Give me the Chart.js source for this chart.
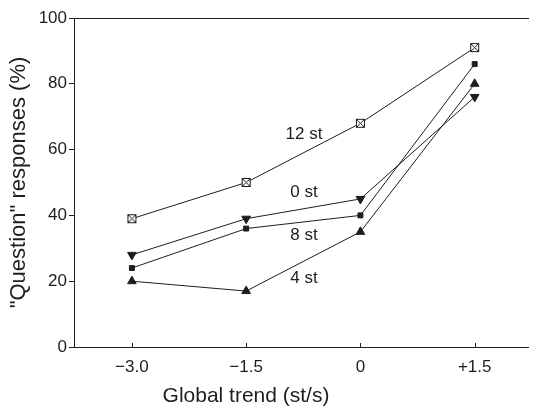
<!DOCTYPE html>
<html>
<head>
<meta charset="utf-8">
<script src="https://cdn.jsdelivr.net/npm/chart.js@4.4.1/dist/chart.umd.min.js"></script>
<style>
  html, body { margin: 0; padding: 0; background: #fff; }
  #wrap { width: 534px; height: 412px; position: relative; }
</style>
</head>
<body>
<div id="wrap"><canvas id="chart"></canvas></div>
<script>
// global trend (st/s) on the x axis
const trendValues = [-3.0, -1.5, 0, 1.5];
const trendLabels = ["\u22123.0", "\u22121.5", "0", "+1.5"];

// "Question" responses (%) for each excursion size
const resp12st = [39, 50, 68, 91];
const resp0st = [28, 39, 45, 76];
const resp8st = [24, 36, 40, 86];
const resp4st = [20, 17, 35, 80];

// in-plot series labels, in data units
const seriesNames = ["12 st", "0 st", "8 st", "4 st"];
const nameX = [-0.74, -0.74, -0.74, -0.74];
const nameY = [64.5, 47, 34, 21];

const ink = "#1e1e1e";
const font = "'Liberation Sans', Arial, Helvetica, sans-serif";

// open square with a cross inside
const boxCross = document.createElement("canvas");
boxCross.width = 11;
boxCross.height = 11;
(() => {
    const c = boxCross.getContext("2d");
    c.fillStyle = "#fff";
    c.fillRect(1, 1, 9, 9);
    c.strokeStyle = ink;
    c.lineWidth = 1;
    c.strokeRect(1.5, 1.5, 8, 8);
    c.beginPath();
    c.moveTo(2, 2); c.lineTo(9, 9);
    c.moveTo(9, 2); c.lineTo(2, 9);
    c.stroke();
})();

const toPoints = (vals) => vals.map((v, i) => ({ x: trendValues[i], y: v }));

const lineSet = (label, vals, style, extra) => Object.assign({
    label,
    data: toPoints(vals),
    borderColor: ink,
    backgroundColor: ink,
    borderWidth: 1,
    pointStyle: style,
    pointRadius: 4,
    pointBorderWidth: 1,
    pointBorderColor: ink,
    pointBackgroundColor: ink,
    tension: 0
}, extra || {});

const annotations = {
    id: "annotations",
    afterDatasetsDraw(chart) {
        const { ctx, scales: { x, y }, chartArea } = chart;
        ctx.save();
        ctx.fillStyle = ink;
        ctx.font = "17px " + font;
        ctx.textAlign = "center";
        ctx.textBaseline = "middle";
        seriesNames.forEach((name, i) => {
            ctx.fillText(name, x.getPixelForValue(nameX[i]), y.getPixelForValue(nameY[i]));
        });

        // small inward ticks on the x axis
        ctx.strokeStyle = ink;
        ctx.lineWidth = 1;
        ctx.beginPath();
        trendValues.forEach((v) => {
            const px = Math.round(x.getPixelForValue(v)) + 0.5;
            ctx.moveTo(px, chartArea.bottom);
            ctx.lineTo(px, chartArea.bottom - 4);
        });
        ctx.stroke();

        // x axis title
        ctx.font = "21px " + font;
        ctx.fillText("Global trend (st/s)", 246, 396);
        ctx.restore();
    }
};

new Chart(document.getElementById("chart"), {
    type: "line",
    data: {
        datasets: [
            lineSet("12 st", resp12st, boxCross),
            lineSet("0 st", resp0st, "triangle", { rotation: 180, pointRadius: 5 }),
            lineSet("8 st", resp8st, "rect", { pointRadius: 3.5 }),
            lineSet("4 st", resp4st, "triangle", { pointRadius: 5 })
        ]
    },
    options: {
        responsive: true,
        maintainAspectRatio: false,
        animation: false,
        layout: { padding: { top: 18, right: 0, left: 0, bottom: 0 } },
        plugins: {
            legend: { display: false },
            tooltip: { enabled: false }
        },
        scales: {
            x: {
                type: "linear",
                min: -3.76,
                max: 2.2,
                afterBuildTicks: (axis) => {
                    axis.ticks = trendValues.map((v) => ({ value: v }));
                },
                afterFit: (axis) => { axis.height = 65; },
                grid: { display: false },
                border: { display: true, color: ink, width: 1 },
                ticks: {
                    color: ink,
                    font: { family: font, size: 17 },
                    padding: 2,
                    maxRotation: 0,
                    callback: (v) => trendLabels[trendValues.indexOf(v)]
                }
            },
            top: {
                type: "linear",
                position: "top",
                min: -3.76,
                max: 2.2,
                afterFit: (axis) => { axis.height = 0; },
                grid: { display: false },
                border: { display: true, color: ink, width: 1 },
                ticks: { display: false }
            },
            y: {
                min: 0,
                max: 100,
                afterFit: (axis) => { axis.width = 74; },
                ticks: {
                    stepSize: 20,
                    color: ink,
                    font: { family: font, size: 17 },
                    padding: 2
                },
                grid: {
                    drawOnChartArea: false,
                    drawTicks: true,
                    tickLength: 5,
                    color: ink
                },
                border: { display: true, color: ink, width: 1 },
                title: {
                    display: true,
                    text: "\"Question\" responses (%)",
                    color: ink,
                    font: { family: font, size: 22 },
                    padding: { top: 6, bottom: 0 }
                }
            }
        }
    },
    plugins: [annotations]
});
</script>
</body>
</html>
